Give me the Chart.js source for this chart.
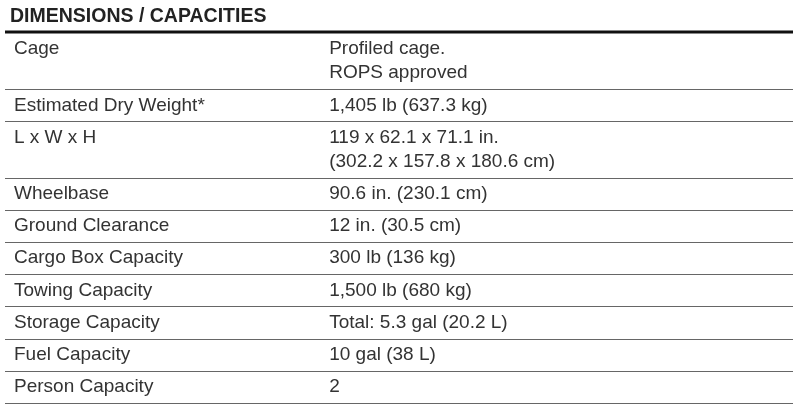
<!DOCTYPE html>
<html>
<head>
<meta charset="utf-8">
<script src="https://cdn.jsdelivr.net/npm/chart.js@4/dist/chart.umd.min.js"></script>
<style>
  html, body { margin: 0; padding: 0; background: #fff; }
  #wrap { width: 801px; height: 414px; }
</style>
</head>
<body>
<div id="wrap"><canvas id="specTable"></canvas></div>
<script>
// Table content
const title = 'DIMENSIONS / CAPACITIES';
const labels = ['Cage', 'Estimated Dry Weight*', 'L x W x H', 'Wheelbase', 'Ground Clearance',
    'Cargo Box Capacity', 'Towing Capacity', 'Storage Capacity', 'Fuel Capacity', 'Person Capacity'];
const values = [
    ['Profiled cage.', 'ROPS approved'],
    ['1,405 lb (637.3 kg)'],
    ['119 x 62.1 x 71.1 in.', '(302.2 x 157.8 x 180.6 cm)'],
    ['90.6 in. (230.1 cm)'],
    ['12 in. (30.5 cm)'],
    ['300 lb (136 kg)'],
    ['1,500 lb (680 kg)'],
    ['Total: 5.3 gal (20.2 L)'],
    ['10 gal (38 L)'],
    ['2']
];

// row heights in "units": a two-line row is taller
const rowUnits = values.map(v => v.length > 1 ? 1.75 : 1);
const rowStarts = [];
let acc = 0;
rowUnits.forEach(u => { rowStarts.push(acc); acc += u; });
const totalUnits = acc;

const tablePlugin = {
    id: 'tablePlugin',
    afterDraw(chart) {
        const ctx = chart.ctx;
        const x = chart.scales.x, y = chart.scales.y;
        const left = x.getPixelForValue(0), right = x.getPixelForValue(1);
        const col2 = x.getPixelForValue(0.4114);
        ctx.save();

        // title
        ctx.fillStyle = '#222';
        ctx.font = 'bold 19.5px "Liberation Sans", Arial, sans-serif';
        ctx.textBaseline = 'middle';
        ctx.fillText(title, left + 5, 17);

        // rows
        ctx.font = '19px "Liberation Sans", Arial, sans-serif';
        labels.forEach((lab, i) => {
            const top = y.getPixelForValue(rowStarts[i]);
            const bottom = y.getPixelForValue(rowStarts[i] + rowUnits[i]);
            ctx.fillStyle = '#333';
            ctx.fillText(lab, left + 9, top + 16);
            values[i].forEach((line, j) => {
                ctx.fillText(line, col2, top + 16 + j * 24);
            });
            ctx.strokeStyle = '#666';
            ctx.lineWidth = 1;
            ctx.beginPath();
            ctx.moveTo(left, Math.round(bottom) + 0.5);
            ctx.lineTo(right, Math.round(bottom) + 0.5);
            ctx.stroke();
        });

        // thick header rule
        ctx.strokeStyle = '#111';
        ctx.lineWidth = 3;
        ctx.beginPath();
        ctx.moveTo(left, y.getPixelForValue(0) - 1);
        ctx.lineTo(right, y.getPixelForValue(0) - 1);
        ctx.stroke();
        ctx.restore();
    }
};

new Chart(document.getElementById('specTable'), {
    type: 'scatter',
    data: { datasets: [{ data: [] }] },
    options: {
        responsive: true,
        maintainAspectRatio: false,
        animation: false,
        layout: { padding: { left: 5, right: 8, top: 33, bottom: 11 } },
        plugins: { legend: { display: false }, tooltip: { enabled: false } },
        scales: {
            x: { type: 'linear', min: 0, max: 1, display: false },
            y: { type: 'linear', min: 0, max: totalUnits, reverse: true, display: false }
        }
    },
    plugins: [tablePlugin]
});
</script>
</body>
</html>
